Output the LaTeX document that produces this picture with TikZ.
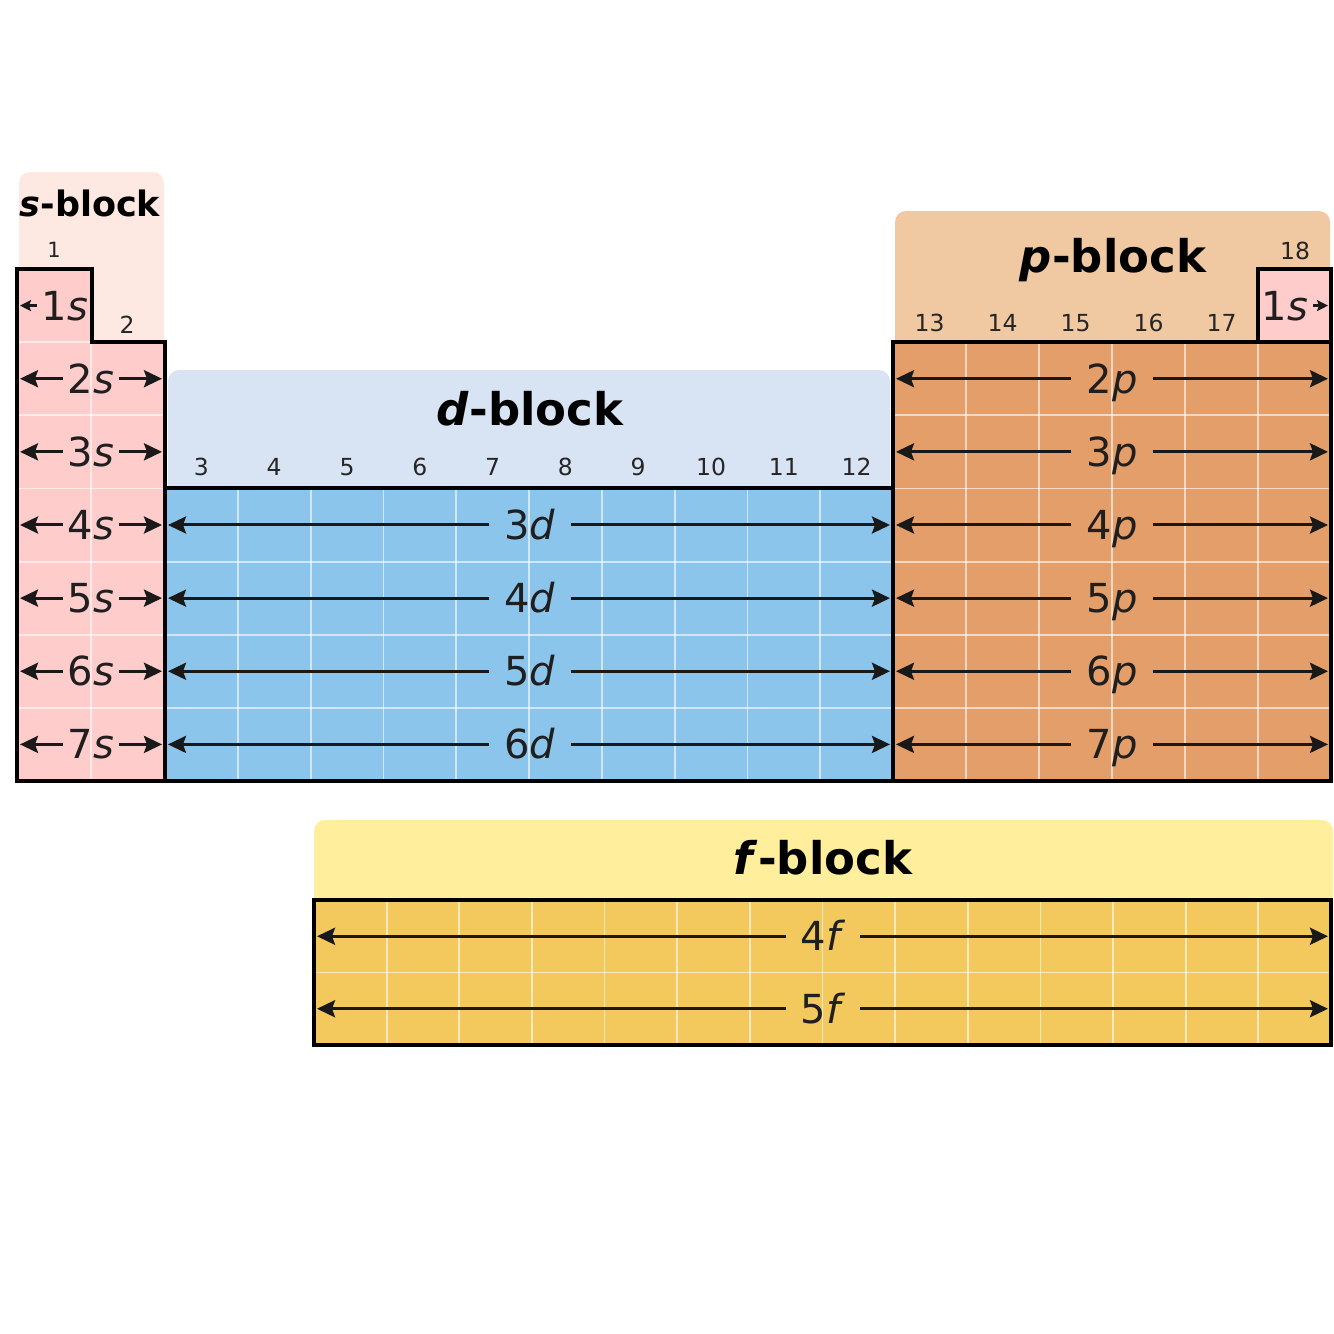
\documentclass[tikz,border=0pt]{standalone}
\usepackage{fontspec}
\setmainfont{DejaVu Sans}
\usetikzlibrary{arrows.meta}
\definecolor{sbg}{HTML}{FDE9E2}
\definecolor{scell}{HTML}{FFCCCC}
\definecolor{dbg}{HTML}{D8E4F4}
\definecolor{dcell}{HTML}{8CC5EB}
\definecolor{pbg}{HTML}{F0C9A2}
\definecolor{pcell}{HTML}{E49E69}
\definecolor{fbg}{HTML}{FFEE9C}
\definecolor{fcell}{HTML}{F3C95E}
\tikzset{
  blockbg/.style ={rounded corners=11pt},
  gridln/.style  ={white, opacity=0.6, line width=1.8pt},
  outln/.style   ={line width=3.2pt, line join=miter},
  orb/.style     ={font=\fontsize{40}{40}\selectfont, text=black!88,
                   text height=29pt, text depth=0pt, inner ysep=2pt},
  orbs/.style    ={orb, inner xsep=5pt},
  orbw/.style    ={orb, inner xsep=15pt},
  grp/.style     ={font=\fontsize{23.5}{24}\selectfont, text=black!85,
                   text height=17pt, text depth=0pt, inner sep=0pt},
  blk/.style     ={font=\fontsize{45}{46}\selectfont\bfseries,
                   text height=34pt, text depth=0pt, inner sep=0pt},
  orbarr/.style  ={-{Stealth[length=18pt, width=17pt, inset=3pt]},
                   line width=3pt, black!90},
  orbsmall/.style={-{Stealth[length=11pt, width=11pt, inset=2pt]},
                   line width=2.6pt, black!90},
}
\begin{document}
\begin{tikzpicture}[x=1pt, y=-1pt]
  \useasboundingbox (0,0) rectangle (1334,1334);
  % title panels
  \fill[sbg, blockbg] (19,172) rectangle (164,360);
  \fill[pbg, blockbg] (895,211) rectangle (1330,360);
  \fill[dbg, blockbg] (168,370) rectangle (890,500);
  \fill[fbg, blockbg] (314,820) rectangle (1333,910);
  % cells
  \fill[scell] (17,269) -- (92,269) -- (92,342) -- (165,342) -- (165,781)
    -- (17,781) -- cycle;
  \fill[dcell] (165,488) rectangle (893,781);
  \fill[pcell] (893,342) rectangle (1331,781);
  \fill[scell] (1258,269) rectangle (1331,342);
  \fill[fcell] (314,900) rectangle (1331,1045);
  % white cell lines
  \foreach \y in {342,415.3,488.4,561.6,634.7,707.9}
    \draw[gridln] (17,\y) -- (165,\y);
  \draw[gridln] (91,342) -- (91,781);
  \foreach \y in {561.6,634.7,707.9}
    \draw[gridln] (165,\y) -- (893,\y);
  \foreach \k in {1,...,9}
    \draw[gridln] (165+72.8*\k,488) -- (165+72.8*\k,781);
  \foreach \y in {415.3,488.4,561.6,634.7,707.9}
    \draw[gridln] (893,\y) -- (1331,\y);
  \foreach \k in {1,...,5}
    \draw[gridln] (893+73*\k,342) -- (893+73*\k,781);
  \draw[gridln] (314,972.5) -- (1331,972.5);
  \foreach \k in {1,...,13}
    \draw[gridln] (314+72.64*\k,900) -- (314+72.64*\k,1045);
  % outlines
  \draw[outln] (17,781) -- (17,269) -- (92,269) -- (92,342) -- (165,342)
    -- (165,488) -- (893,488) -- (893,342) -- (1258,342) -- (1258,269)
    -- (1331,269) -- (1331,781) -- cycle;
  \draw[outln] (165,488) -- (165,781);
  \draw[outln] (893,488) -- (893,781);
  \draw[outln] (1258,342) -- (1331,342);
  \draw[outln] (314,900) rectangle (1331,1045);
  % block titles
  \node[blk, font=\fontsize{35}{36}\selectfont\bfseries, text height=26pt]
    (sblk) at (90,203) {\textit{s}-block};
  \node[blk] (dblk) at (530,408) {\textit{d}-block};
  \node[blk] (pblk) at (1113,255) {\textit{p}-block};
  \node[blk] (fblk) at (823,857) {\textit{f}-block};
  % group numbers
  \node[grp, font=\fontsize{21}{22}\selectfont, text height=15pt]
    (g1) at (54,250) {1};
  \node[grp] (g2) at (127,325) {2};
  \foreach \g [count=\k from 0] in {3,...,12}
    \node[grp] (g\g) at (201.4+72.8*\k,467) {\g};
  \foreach \g [count=\k from 0] in {13,...,17}
    \node[grp] (g\g) at (929.5+73*\k,323) {\g};
  \node[grp] (g18) at (1295,251) {18};
  % s-block orbitals
  \node[orbs] (s1) at (65,305.6) {1\textit{s}};
  \coordinate (s1-w) at (20,305.6);
  \draw[orbsmall] (s1) -- (s1-w);
  \node[orbs] (he1) at (1285,305.6) {1\textit{s}};
  \coordinate (he1-e) at (1328,305.6);
  \draw[orbsmall] (he1) -- (he1-e);
  \foreach \n in {2,...,7}{
    \pgfmathsetmacro\y{232.43+73.14*\n}
    \node[orbs] (s\n) at (91,\y) {\n\textit{s}};
    \coordinate (s\n-w) at (20,\y);
    \coordinate (s\n-e) at (162,\y);
    \draw[orbarr] (s\n) -- (s\n-w);
    \draw[orbarr] (s\n) -- (s\n-e);
  }
  % d-block orbitals
  \foreach \n in {3,...,6}{
    \pgfmathsetmacro\y{232.43+73.14*(\n+1)}
    \node[orbw] (d\n) at (530,\y) {\n\textit{d}};
    \coordinate (d\n-w) at (168,\y);
    \coordinate (d\n-e) at (890,\y);
    \draw[orbarr] (d\n) -- (d\n-w);
    \draw[orbarr] (d\n) -- (d\n-e);
  }
  % p-block orbitals
  \foreach \n in {2,...,7}{
    \pgfmathsetmacro\y{232.43+73.14*\n}
    \node[orbw] (p\n) at (1112,\y) {\n\textit{p}};
    \coordinate (p\n-w) at (896,\y);
    \coordinate (p\n-e) at (1328,\y);
    \draw[orbarr] (p\n) -- (p\n-w);
    \draw[orbarr] (p\n) -- (p\n-e);
  }
  % f-block orbitals
  \foreach \n in {4,5}{
    \pgfmathsetmacro\y{936.25+72.5*(\n-4)}
    \node[orbw] (f\n) at (823,\y) {\n\textit{f}};
    \coordinate (f\n-w) at (317,\y);
    \coordinate (f\n-e) at (1328,\y);
    \draw[orbarr] (f\n) -- (f\n-w);
    \draw[orbarr] (f\n) -- (f\n-e);
  }
\end{tikzpicture}
\end{document}
